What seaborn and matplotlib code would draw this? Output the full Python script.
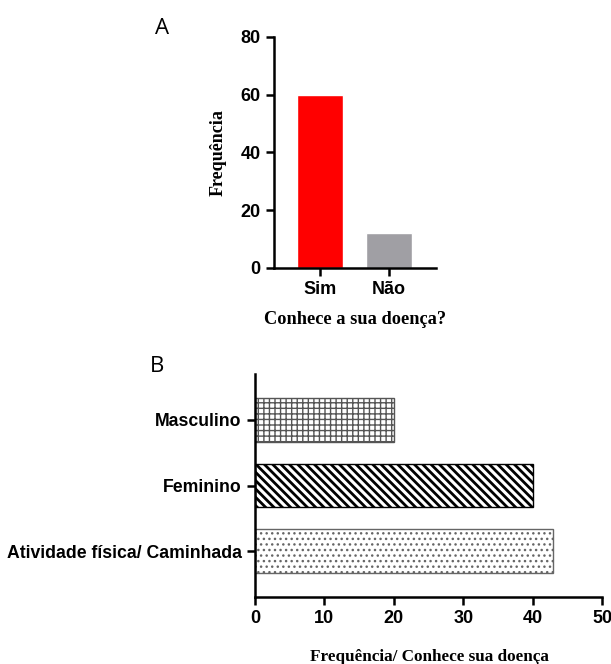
import matplotlib
matplotlib.use("Agg")
import matplotlib.pyplot as plt
import seaborn as sns

# Panel A data
know_cats = ["Sim", "Não"]
know_vals = [60, 12]
know_colors = ["#ff0000", "#a09fa4"]

# Panel B data
group_cats = ["Masculino", "Feminino", "Atividade física/ Caminhada"]
group_vals = [20, 40, 43]
group_hatches = ["+++", "\\\\\\\\", "..."]
group_edges = ["#555555", "#000000", "#666666"]
group_hatch_lw = [1.0, 2.0, 1.0]

sns.set_theme(style="ticks")
plt.rcParams["font.family"] = ["Liberation Sans", "DejaVu Sans"]
plt.rcParams.update({"text.color": "black", "axes.labelcolor": "black",
                     "xtick.color": "black", "ytick.color": "black"})

SANS = ["Liberation Sans", "DejaVu Sans"]
SERIF = ["Liberation Serif", "DejaVu Serif"]


def style_axes(ax):
    sns.despine(ax=ax)
    for side in ("left", "bottom"):
        ax.spines[side].set_linewidth(1.8)
        ax.spines[side].set_color("black")
    ax.tick_params(length=6, width=1.8, color="black", labelcolor="black")


fig = plt.figure(figsize=(6.11, 6.64), dpi=100)

# ---- Panel A ----
axA = fig.add_axes([0.4484, 0.5964, 0.2651, 0.3479])
sns.barplot(x=know_cats, y=know_vals, hue=know_cats, palette=know_colors,
            width=0.667, legend=False, saturation=1, ax=axA)
axA.set_xlim(-0.67, 1.68)
axA.set_ylim(0, 80)
axA.set_yticks([0, 20, 40, 60, 80])
style_axes(axA)
for lbl in axA.get_xticklabels() + axA.get_yticklabels():
    lbl.set_fontfamily(SANS)
    lbl.set_fontweight("bold")
    lbl.set_fontsize(13)
axA.set_xlabel("Conhece a sua doença?", family=SERIF, fontweight="bold", fontsize=13.2)
axA.set_ylabel("Frequência", family=SERIF, fontweight="bold", fontsize=13)
axA.xaxis.set_label_coords(0.5, -0.186)
axA.yaxis.set_label_coords(-0.29, 0.5)

# ---- Panel B ----
axB = fig.add_axes([0.4173, 0.1009, 0.568, 0.3358])
sns.barplot(x=group_vals, y=group_cats, orient="h", color="white",
            width=0.667, saturation=1, ax=axB)
for bar, hatch, edge, hlw in zip(axB.patches, group_hatches, group_edges, group_hatch_lw):
    bar.set_facecolor("white")
    bar.set_edgecolor(edge)
    bar.set_linewidth(1.0)
    bar.set_hatch(hatch)
    if hasattr(bar, "set_hatch_linewidth"):
        bar.set_hatch_linewidth(hlw)
axB.set_xlim(0, 50)
axB.set_ylim(2.7, -0.7)
axB.set_xticks([0, 10, 20, 30, 40, 50])
style_axes(axB)
for lbl in axB.get_yticklabels():
    lbl.set_fontfamily(SANS)
    lbl.set_fontweight("bold")
    lbl.set_fontsize(12.7)
for lbl in axB.get_xticklabels():
    lbl.set_fontfamily(SANS)
    lbl.set_fontweight("bold")
    lbl.set_fontsize(13)
axB.set_xlabel("Frequência/ Conhece sua doença", family=SERIF, fontweight="bold", fontsize=12.3)
axB.set_ylabel("")
axB.xaxis.set_label_coords(0.504, -0.232)

# panel letters
fig.text(162 / 611, 1 - 29 / 664, "A", ha="center", va="center",
         fontsize=16, family=["Open Sans", "DejaVu Sans"])
fig.text(157 / 611, 1 - 366 / 664, "B", ha="center", va="center",
         fontsize=16, family=["Open Sans", "DejaVu Sans"])

fig.savefig("out.png", dpi=100, facecolor="white")
